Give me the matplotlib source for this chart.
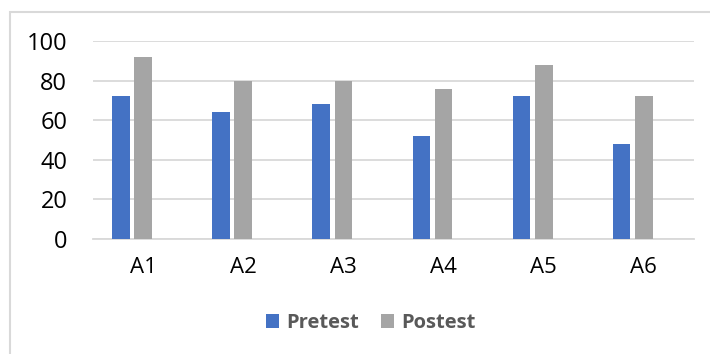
import matplotlib

matplotlib.use("Agg")
import matplotlib.pyplot as plt
import numpy as np
from matplotlib.patches import Rectangle

CATEGORIES = ["A1", "A2", "A3", "A4", "A5", "A6"]
PRETEST = [72, 64, 68, 52, 72, 48]
POSTEST = [92, 80, 80, 76, 88, 72]
Y_TICKS = [0, 20, 40, 60, 80, 100]

BLUE = "#4472C4"
GRAY = "#A5A5A5"
GRID = "#D9D9D9"

WIDTH_PX, HEIGHT_PX, DPI = 710, 354, 100

plt.rcParams["font.family"] = ["Open Sans", "DejaVu Sans"]


def fig_box(left, top, right, bottom):
    # pixel box (from top-left) -> figure fraction rect
    return [left / WIDTH_PX, 1 - bottom / HEIGHT_PX,
            (right - left) / WIDTH_PX, (bottom - top) / HEIGHT_PX]


def main():
    fig = plt.figure(figsize=(WIDTH_PX / DPI, HEIGHT_PX / DPI), dpi=DPI)
    fig.patch.set_facecolor("white")

    # chart frame, cropped on the right and bottom
    frame = Rectangle((10 / WIDTH_PX, -0.05), 1.2, 1 - 12 / HEIGHT_PX + 0.05,
                      transform=fig.transFigure, fill=False,
                      edgecolor=GRID, linewidth=1.5)
    fig.add_artist(frame)

    ax = fig.add_axes(fig_box(93, 41, 694, 239))
    x = np.arange(len(CATEGORIES))
    bar_w = 0.175
    step = 0.222
    # third (empty) series slot keeps Postest centred on the category
    ax.bar(x - step, PRETEST, width=bar_w, color=BLUE, label="Pretest", zorder=3)
    ax.bar(x, POSTEST, width=bar_w, color=GRAY, label="Postest", zorder=3)

    ax.set_xlim(-0.5, len(CATEGORIES) - 0.5)
    ax.set_ylim(0, 100)
    ax.set_yticks(Y_TICKS)
    ax.set_yticklabels([str(t) for t in Y_TICKS], fontsize=17, color="#000000")
    ax.set_xticks(x)
    ax.set_xticklabels(CATEGORIES, fontsize=16, color="#000000")
    ax.tick_params(axis="both", length=0)
    ax.tick_params(axis="y", pad=18.5)
    ax.tick_params(axis="x", pad=13)

    ax.yaxis.grid(True, color=GRID, linewidth=1.3, zorder=0)
    for side in ("top", "right", "left"):
        ax.spines[side].set_visible(False)
    ax.spines["bottom"].set_color(GRID)
    ax.spines["bottom"].set_linewidth(1.3)

    leg = fig.legend(loc="center", bbox_to_anchor=(371 / WIDTH_PX, 1 - 323 / HEIGHT_PX),
                     ncol=2, frameon=False, handlelength=0.65, handleheight=0.65,
                     handletextpad=0.35, columnspacing=1.1,
                     prop={"size": 14.5, "weight": "bold"})
    for text in leg.get_texts():
        text.set_color("#595959")

    fig.savefig("out.png", dpi=DPI, facecolor="white")
    plt.close(fig)


if __name__ == "__main__":
    main()
